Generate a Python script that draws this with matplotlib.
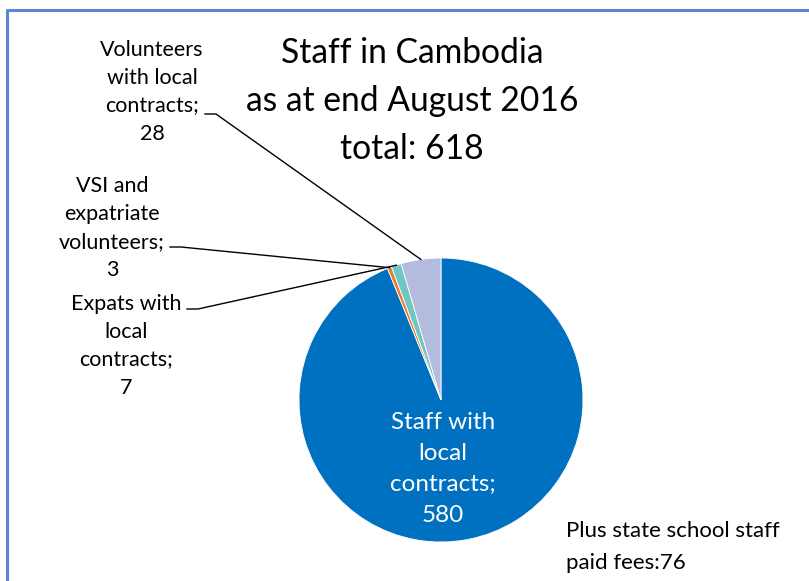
import numpy as np
import matplotlib
matplotlib.use("Agg")
import matplotlib.pyplot as plt
from matplotlib.lines import Line2D

# data
labels = ["Staff with\nlocal\ncontracts;", "VSI and\nexpatriate\nvolunteers;", "Expats with\nlocal\ncontracts;", "Volunteers\nwith local\ncontracts;"]
values = [580, 3, 7, 28]
colors = ["#0070C0", "#ED7D31", "#70C6C3", "#B3BCDF"]
title = "Staff in Cambodia\nas at end August 2016\ntotal: " + str(sum(values))
note = "Plus state school staff\npaid fees:76"

plt.rcParams['font.family'] = ['Lato', 'DejaVu Sans']

W, H = 809, 581
fig = plt.figure(figsize=(W / 100, H / 100), dpi=100)

def px(x, y):
    return x / W, 1 - y / H

# chart frame
fig.add_artist(Line2D([6.5 / W, 6.5 / W, 1.0], [0, 1 - 9.5 / H, 1 - 9.5 / H],
                      color="#5B87D6", lw=2.2))

# pie
cx, cy, r = 441, 400, 142
ax = fig.add_axes([(cx - r) / W, 1 - (cy + r) / H, 2 * r / W, 2 * r / H])
wedges, _ = ax.pie(values, colors=colors, startangle=90, counterclock=False, radius=1,
                   wedgeprops=dict(edgecolor="white", linewidth=0.6))
ax.set_xlim(-1, 1)
ax.set_ylim(-1, 1)
ax.axis("off")

# title
fig.text(*px(412, 101), title, ha="center", va="center", fontsize=24.2, linespacing=1.6)

# big slice label inside
fig.text(*px(443, 469), labels[0] + "\n" + str(values[0]), ha="center", va="center",
         fontsize=17.5, color="white", linespacing=1.58)

# outside labels: (text centre, leader start)
lab_pos = {1: ((112, 228), (170, 247)),
           2: ((126, 346), (187, 309)),
           3: ((152, 92), (205, 114))}
for i, ((tx, ty), (lx, ly)) in lab_pos.items():
    fig.text(*px(tx, ty), labels[i] + "\n" + str(values[i]), ha="center", va="center",
             fontsize=15.5, linespacing=1.5)
    w = wedges[i]
    ang = np.deg2rad((w.theta1 + w.theta2) / 2)
    ex, ey = ax.transData.transform((np.cos(ang), np.sin(ang)))
    fig.add_artist(Line2D([lx / W, (lx + 11) / W, ex / W], [1 - ly / H, 1 - ly / H, ey / H],
                          color="black", lw=1))

fig.text(*px(566, 547), note, ha="left", va="center", fontsize=16, linespacing=1.7)

fig.savefig("out.png", dpi=100)
